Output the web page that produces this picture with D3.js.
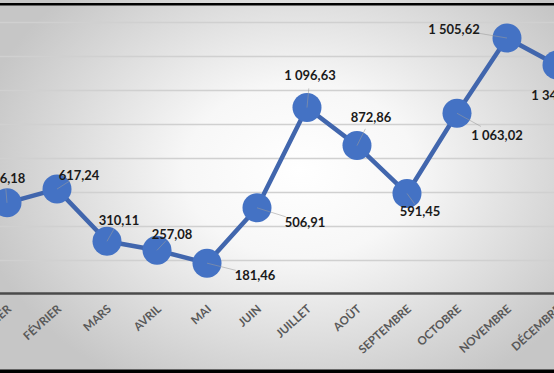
<!DOCTYPE html>
<html>
<head>
<meta charset="utf-8">
<script src="https://cdn.jsdelivr.net/npm/d3@7"></script>
<style>
  html, body { margin: 0; padding: 0; background: #fff; }
  svg { display: block; }
</style>
</head>
<body>
<div id="chart"></div>
<script>
// Monthly values (French locale labels)
const months = ['JANVIER', 'FÉVRIER', 'MARS', 'AVRIL', 'MAI', 'JUIN',
  'JUILLET', 'AOÛT', 'SEPTEMBRE', 'OCTOBRE', 'NOVEMBRE', 'DÉCEMBRE'];
const values = [536.18, 617.24, 310.11, 257.08, 181.46, 506.91,
  1096.63, 872.86, 591.45, 1063.02, 1505.62, 1346.87];
const gridTicks = [200, 400, 600, 800, 1000, 1200, 1400, 1600];

// label placement relative to each point (layout only)
const labelOffsets = [
  [-2, -24], [22, -14], [12, -21], [15, -16], [48, 12], [48, 15],
  [3, -32], [14, -28], [13, 18], [40, 22], [-53, -9], [0, 30],
];

const W = 554, H = 373;
const fmt = v => d3.format(',.2f')(v).replace(/,/g, ' ').replace('.', ',');

const svg = d3.select('#chart').append('svg')
  .attr('width', W)
  .attr('height', H);

svg.append('rect').attr('width', W).attr('height', H).attr('fill', '#fff');

// background: soft radial grey
const defs = svg.append('defs');
const grad = defs.append('radialGradient')
  .attr('id', 'bg')
  .attr('gradientUnits', 'userSpaceOnUse')
  .attr('cx', 300).attr('cy', 170).attr('r', 330)
  .attr('gradientTransform', 'translate(300,170) scale(1,0.75) translate(-300,-170)');
grad.append('stop').attr('offset', '0').attr('stop-color', '#ffffff');
grad.append('stop').attr('offset', '0.35').attr('stop-color', '#f7f7f7');
grad.append('stop').attr('offset', '1').attr('stop-color', '#c6c6c6');

svg.append('rect').attr('width', W).attr('height', H).attr('fill', 'url(#bg)');

const x = d3.scalePoint().domain(months).range([7, 557]);
const y = d3.scaleLinear().domain([0, 1600]).range([294, 22]);

// gridlines
svg.append('g')
  .selectAll('line')
  .data(gridTicks)
  .join('line')
  .attr('x1', 0).attr('x2', W)
  .attr('y1', d => Math.round(y(d)) + 0.5)
  .attr('y2', d => Math.round(y(d)) + 0.5)
  .attr('stroke', '#d0d0d0')
  .attr('stroke-width', 1.4);

// x axis line
svg.append('line')
  .attr('x1', 0).attr('x2', W)
  .attr('y1', y(0) - 0.5).attr('y2', y(0) - 0.5)
  .attr('stroke', '#4a4a4a')
  .attr('stroke-width', 2.6);

// month labels
svg.append('g')
  .selectAll('text')
  .data(months)
  .join('text')
  .attr('transform', d => `translate(${x(d) + 5},${310}) rotate(-42)`)
  .attr('text-anchor', 'end')
  .attr('font-family', 'Lato, "Open Sans", sans-serif')
  .attr('font-size', 11.5)
  .attr('font-weight', 700)
  .attr('fill', '#595959')
  .text(d => d);

const pts = months.map((m, i) => ({ m, v: values[i], dx: labelOffsets[i][0], dy: labelOffsets[i][1] }));

// line
svg.append('path')
  .datum(pts)
  .attr('fill', 'none')
  .attr('stroke', '#4166ad')
  .attr('stroke-width', 4.5)
  .attr('stroke-linejoin', 'round')
  .attr('d', d3.line().x(d => x(d.m)).y(d => y(d.v)));

// markers
svg.append('g')
  .selectAll('circle')
  .data(pts)
  .join('circle')
  .attr('cx', d => x(d.m))
  .attr('cy', d => y(d.v))
  .attr('r', 14.5)
  .attr('fill', '#4472c4');

// leader lines
svg.append('g')
  .selectAll('line')
  .data(pts)
  .join('line')
  .attr('x1', d => x(d.m))
  .attr('y1', d => y(d.v))
  .attr('x2', d => x(d.m) + d.dx * 0.6)
  .attr('y2', d => y(d.v) + d.dy * 0.6)
  .attr('stroke', '#9a9a9a')
  .attr('stroke-opacity', 0.55)
  .attr('stroke-width', 1);

// data labels
svg.append('g')
  .selectAll('text')
  .data(pts)
  .join('text')
  .attr('x', d => x(d.m) + d.dx)
  .attr('y', d => y(d.v) + d.dy)
  .attr('dy', '0.35em')
  .attr('text-anchor', 'middle')
  .attr('font-family', 'Lato, "Open Sans", sans-serif')
  .attr('font-size', 13)
  .attr('font-weight', 700)
  .attr('fill', '#1a1a1a')
  .text(d => fmt(d.v));

// black frame edges (top and bottom of the cropped chart border)
svg.append('rect').attr('x', 0).attr('y', 3).attr('width', W).attr('height', 2.5).attr('fill', '#000');
svg.append('rect').attr('x', 0).attr('y', 369.5).attr('width', W).attr('height', 3.5).attr('fill', '#000');
</script>
</body>
</html>
